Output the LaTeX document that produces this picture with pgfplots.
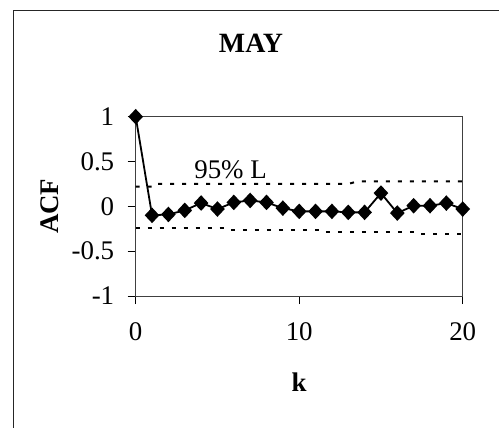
\documentclass[border=0pt]{standalone}
\usepackage{fontspec}
\setmainfont{Liberation Serif}
\usepackage{pgfplots}
\pgfplotsset{compat=1.18}
\begin{document}
\begin{tikzpicture}[x=1bp,y=1bp]
\useasboundingbox (0,0) rectangle (499,427);
\draw[line width=0.8bp, black!85] (13,-20) rectangle (530,417);
\node[font=\fontsize{28}{30}\selectfont\bfseries] at (251,384) {MAY};
\begin{axis}[
  at={(135.7bp,131bp)}, anchor=south west,
  scale only axis, width=327bp, height=179.3bp,
  xmin=0, xmax=20, ymin=-1, ymax=1,
  xtick={0,10,20}, ytick={-1,-0.5,0,0.5,1},
  yticklabels={-1,-0.5,0,0.5,1},
  xtick pos=bottom, ytick pos=left,
  tick align=outside, major tick length=8bp,
  tick style={black, line width=0.8bp},
  axis line style={black!75, line width=0.8bp},
  ticklabel style={font=\fontsize{27}{29}\selectfont},
  /pgf/number format/assume math mode=true,
  xticklabel style={anchor=center, yshift=-28bp},
  yticklabel style={xshift=-10bp},
  xlabel={\textbf{k}},
  xlabel style={font=\fontsize{27}{29}\selectfont, at={(axis description cs:0.5,0)}, anchor=center, yshift=-86bp},
  ylabel={\textbf{ACF}},
  ylabel style={font=\fontsize{27}{29}\selectfont, at={(axis description cs:0,0.5)}, anchor=center, yshift=86bp},
  clip=false,
]
\addplot[black, line width=2bp, dash pattern=on 4bp off 8bp]
  coordinates {(0,0.22)(1.2,0.22)(1.3,0.25)(13,0.25)(13.6,0.28)(20,0.28)};
\addplot[black, line width=2bp, dash pattern=on 4bp off 8bp]
  coordinates {(0,-0.243)(5.4,-0.243)(5.5,-0.262)(11.3,-0.262)(11.4,-0.288)(17.2,-0.288)(17.3,-0.307)(20,-0.307)};
\addplot[black, line width=1.8bp, mark=diamond*, mark size=6.5bp, mark options={solid, xscale=1.25}]
  coordinates {(0,1)(1,-0.10)(2,-0.09)(3,-0.045)(4,0.037)(5,-0.03)(6,0.044)(7,0.066)(8,0.044)(9,-0.02)(10,-0.056)(11,-0.056)(12,-0.056)(13,-0.067)(14,-0.067)(15,0.148)(16,-0.075)(17,0.007)(18,0.007)(19,0.036)(20,-0.03)};
\node[font=\fontsize{27}{29}\selectfont] at (axis cs:5.8,0.41) {95\% L};
\end{axis}
\end{tikzpicture}
\end{document}
